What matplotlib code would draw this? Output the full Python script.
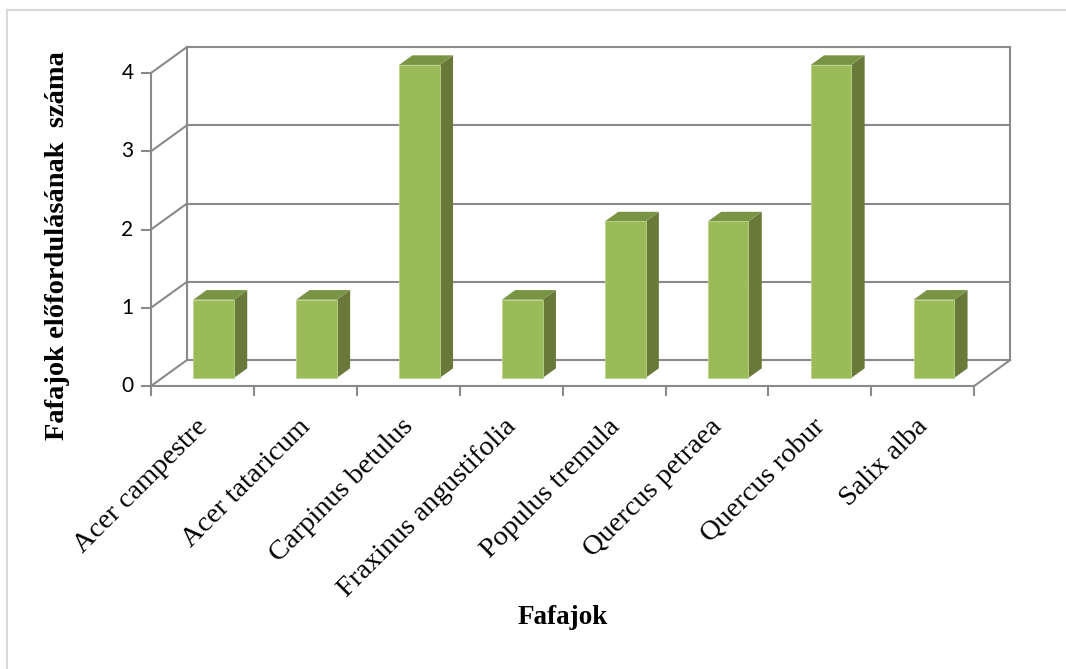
import matplotlib
matplotlib.use('Agg')
import matplotlib.pyplot as plt
from matplotlib.patches import Polygon

# %% DATA
species = ['Acer campestre', 'Acer tataricum', 'Carpinus betulus',
           'Fraxinus angustifolia', 'Populus tremula', 'Quercus petraea',
           'Quercus robur', 'Salix alba']
counts = [1, 1, 4, 1, 2, 2, 4, 1]
y_ticks = [0, 1, 2, 3, 4]
y_label = 'Fafajok előfordulásának  száma'
x_label = 'Fafajok'

# %% LOOK
FRONT = '#9bbb59'
SIDE = '#68793a'
TOP = '#7a9445'
GRID = '#8a8a8a'
SERIF = ['Liberation Serif', 'DejaVu Serif']

# pixel layout of the front plane (0..8 categories, 0..4 counts)
W, H = 1066, 669
X0, XU = 151, 102.9   # px of x=0, px per category
Y0, YU = 386, 78.25   # px (from top) of y=0, px per unit
DX, DY = 36 / XU, 26 / YU   # full depth offset in data units

def proj(x, y, d):
    # oblique projection: d=0 front, d=1 back wall
    return x + d * DX, y + d * DY

fig = plt.figure(figsize=(W / 100, H / 100), dpi=100)
ax = fig.add_axes([0, 0, 1, 1])
ax.set_xlim(-X0 / XU, (W - X0) / XU)
ax.set_ylim((Y0 - H) / YU, Y0 / YU)
ax.axis('off')

n = len(species)
ymax = y_ticks[-1]

# %% WALLS AND GRID
for v in y_ticks:
    bx, by = proj(0, v, 1)
    ex, ey = proj(n, v, 1)
    ax.plot([0, bx], [v, by], color=GRID, lw=1.5, zorder=1)   # left wall
    ax.plot([bx, ex], [by, ey], color=GRID, lw=1.5, zorder=1)  # back wall
    ax.plot([-0.09, 0], [v, v], color=GRID, lw=1.5, zorder=1)  # tick stub
    ax.text(-0.17, v, str(v), ha='right', va='center', fontsize=15,
            family=['Lato', 'DejaVu Sans'], color='#000000')

# wall edges
bx0, by0 = proj(0, 0, 1)
bx1, by1 = proj(0, ymax, 1)
ax.plot([bx0, bx1], [by0, by1], color=GRID, lw=1.5, zorder=1)
rx0, ry0 = proj(n, 0, 1)
rx1, ry1 = proj(n, ymax, 1)
ax.plot([rx0, rx1], [ry0, ry1], color=GRID, lw=1.5, zorder=1)
ax.plot([n, rx0], [0, ry0], color=GRID, lw=1.5, zorder=1)
ax.plot([0, 0], [0, ymax], color=GRID, lw=1.5, zorder=1)
ax.plot([0, n], [0, 0], color=GRID, lw=1.5, zorder=1)
for i in range(n + 1):
    ax.plot([i, i], [0, -0.11], color=GRID, lw=1.5, zorder=1)

# %% BARS
bw = 0.395
d0, d1 = 0.31, 0.68
fx, fy = proj(0, 0, d0)
bx, by = proj(0, 0, d1)
lefts = [i + 0.5 - bw / 2 + fx for i in range(n)]
ax.bar(lefts, counts, width=bw, bottom=fy, align='edge', color=FRONT,
       edgecolor='#b9d38a', linewidth=0.6, zorder=3)
for x, c in zip(lefts, counts):
    r = x + bw
    side = [(r, fy), (r + bx - fx, by), (r + bx - fx, by + c), (r, fy + c)]
    top = [(x, fy + c), (r, fy + c), (r + bx - fx, by + c), (x + bx - fx, by + c)]
    ax.add_patch(Polygon(side, closed=True, facecolor=SIDE, edgecolor='none', zorder=2))
    ax.add_patch(Polygon(top, closed=True, facecolor=TOP, edgecolor='none', zorder=2))

# %% LABELS
for i, name in enumerate(species):
    ax.text(i + 0.43, -0.36, name, rotation=45, rotation_mode='anchor',
            ha='right', va='top', fontsize=20.5, family=SERIF)

ax.text(n / 2, -2.96, x_label, ha='center', va='center', fontsize=19.5,
        fontweight='bold', family=SERIF)
ax.text(-0.913, 1.80, y_label, ha='center', va='center', rotation=90,
        fontsize=20.5, fontweight='bold', family=SERIF)

# chart border (only top and left visible)
ax.plot([-(X0 - 7) / XU, (W - X0) / XU], [(Y0 - 9.5) / YU] * 2, color='#d9d9d9', lw=1.5)
ax.plot([-(X0 - 7) / XU] * 2, [(Y0 - 9.5) / YU, (Y0 - H) / YU], color='#d9d9d9', lw=1.5)

fig.savefig('out.png', dpi=100)
